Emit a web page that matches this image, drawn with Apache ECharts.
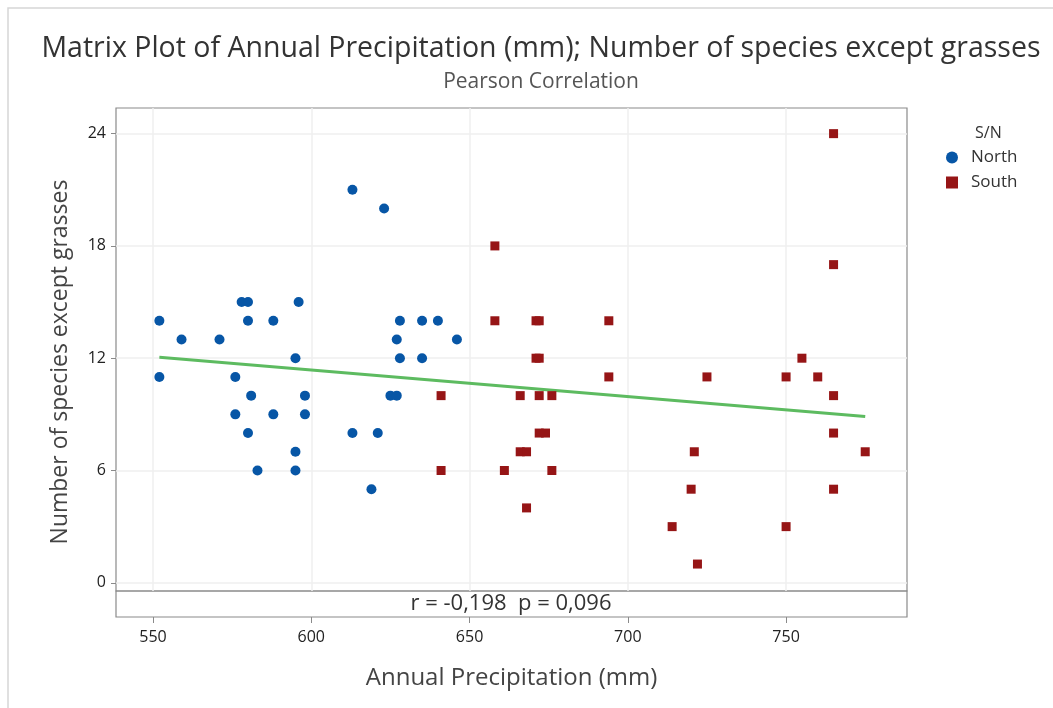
<!DOCTYPE html>
<html>
<head>
<meta charset="utf-8">
<script src="https://cdn.jsdelivr.net/npm/echarts@6/dist/echarts.min.js"></script>
<style>
  html, body { margin: 0; padding: 0; background: #ffffff; }
  #chart { width: 1053px; height: 708px; }
</style>
</head>
<body>
<div id="chart"></div>
<script>
// Annual precipitation (mm) and species count for northern sites
const northPrecip = [613, 552, 559, 571, 578, 580, 596, 580, 588, 595, 552, 576, 581, 598, 576, 588, 598,
  580, 613, 621, 595, 583, 595, 619, 623, 628, 635, 640, 627, 646, 628, 635, 625, 627];
const northSpecies = [21, 14, 13, 13, 15, 15, 15, 14, 14, 12, 11, 11, 10, 10, 9, 9, 9,
  8, 8, 8, 7, 6, 6, 5, 20, 14, 14, 14, 13, 13, 12, 12, 10, 10];

// Annual precipitation (mm) and species count for southern sites
const southPrecip = [658, 658, 671, 672, 694, 671, 672, 694, 641, 666, 672, 676, 672, 674, 666, 668, 641,
  661, 676, 668, 765, 765, 755, 725, 750, 760, 765, 765, 721, 775, 720, 765, 714, 750, 722];
const southSpecies = [18, 14, 14, 14, 14, 12, 12, 11, 10, 10, 10, 10, 8, 8, 7, 7, 6,
  6, 6, 4, 24, 17, 12, 11, 11, 11, 10, 8, 7, 7, 5, 5, 3, 3, 1];

// Fitted regression line over all sites (end points)
const fitPrecip = [552, 775];
const fitSpecies = [12.05, 8.88];

const xTicks = [550, 600, 650, 700, 750];
const yTicks = [0, 6, 12, 18, 24];
const statText = 'r = -0,198  p = 0,096';

const pair = (xs, ys) => xs.map((x, i) => [x, ys[i]]);
const north = pair(northPrecip, northSpecies);
const south = pair(southPrecip, southSpecies);
const fit = pair(fitPrecip, fitSpecies);

const FONT = '"Open Sans", "Noto Sans", sans-serif';
const frame = '#8a8a8a';
const gridLine = '#efefef';
const xMin = 538.3, xMax = 788.2, yMin = -0.44, yMax = 25.37;

const chart = echarts.init(document.getElementById('chart'), null, { renderer: 'canvas' });
chart.setOption({
  backgroundColor: '#ffffff',
  animation: false,
  textStyle: { fontFamily: FONT },
  title: [{
    text: 'Matrix Plot of Annual Precipitation (mm); Number of species except grasses',
    subtext: 'Pearson Correlation',
    left: 536, top: 29, textAlign: 'center',
    itemGap: 9,
    textStyle: { fontFamily: FONT, fontSize: 28.5, fontWeight: 'normal', color: '#333333' },
    subtextStyle: { fontFamily: FONT, fontSize: 21, color: '#555555' }
  }, {
    text: 'S/N',
    left: 970, top: 120,
    textStyle: { fontFamily: FONT, fontSize: 16, fontWeight: 'normal', color: '#333333' }
  }],
  legend: {
    orient: 'vertical',
    left: 941, top: 144,
    itemWidth: 12, itemHeight: 12, itemGap: 8,
    textStyle: { fontFamily: FONT, fontSize: 17, color: '#333333', padding: [0, 0, 0, 8] },
    data: [{ name: 'North', icon: 'circle' }, { name: 'South', icon: 'rect' }]
  },
  graphic: [{
    type: 'polyline',
    shape: { points: [[8, 708], [8, 8], [1053, 8]] },
    style: { stroke: '#d6d6d6', lineWidth: 1.5, fill: null },
    silent: true
  }, {
    type: 'text',
    x: 511, y: 604,
    style: { text: statText, fontFamily: FONT, fontSize: 22, fill: '#333333', align: 'center', verticalAlign: 'middle' },
    silent: true
  }, {
    // y-axis title, centred over the whole frame including the statistics strip
    type: 'text',
    x: 60, y: 362, rotation: Math.PI / 2,
    style: { text: 'Number of species except grasses', fontFamily: FONT, fontSize: 23, fill: '#444444', align: 'center', verticalAlign: 'middle' },
    silent: true
  }],
  grid: [
    { left: 116, right: 146, top: 108, height: 483, show: true, borderColor: frame, borderWidth: 1.2 },
    { left: 116, right: 146, top: 591, height: 26, show: true, borderColor: frame, borderWidth: 1.2 }
  ],
  xAxis: [{
    type: 'value', gridIndex: 0, min: xMin, max: xMax,
    axisLine: { show: false },
    axisTick: { show: false, customValues: xTicks },
    axisLabel: { show: false, customValues: xTicks },
    splitLine: { show: true, lineStyle: { color: gridLine, width: 1.5 } }
  }, {
    type: 'value', gridIndex: 1, min: xMin, max: xMax,
    name: 'Annual Precipitation (mm)', nameLocation: 'middle', nameGap: 49,
    nameTextStyle: { fontFamily: FONT, fontSize: 24, color: '#444444' },
    axisLine: { show: false },
    axisTick: { show: true, length: 6, customValues: xTicks, lineStyle: { color: frame } },
    axisLabel: { show: true, customValues: xTicks, margin: 12, fontFamily: FONT, fontSize: 16, color: '#222222' },
    splitLine: { show: false }
  }],
  yAxis: [{
    type: 'value', gridIndex: 0, min: yMin, max: yMax,
    axisLine: { show: false },
    axisTick: { show: true, length: 5, customValues: yTicks, lineStyle: { color: frame } },
    axisLabel: { show: true, customValues: yTicks, margin: 10, fontFamily: FONT, fontSize: 16, color: '#222222' },
    splitLine: { show: true, lineStyle: { color: gridLine, width: 1.5 } }
  }, {
    type: 'value', gridIndex: 1, min: 0, max: 1,
    axisLine: { show: false }, axisTick: { show: false },
    axisLabel: { show: false }, splitLine: { show: false }
  }],
  series: [{
    name: 'North', type: 'scatter', xAxisIndex: 0, yAxisIndex: 0,
    symbol: 'circle', symbolSize: 10,
    itemStyle: { color: '#0756A6', opacity: 1 },
    data: north, z: 3
  }, {
    name: 'South', type: 'scatter', xAxisIndex: 0, yAxisIndex: 0,
    symbol: 'rect', symbolSize: 9,
    itemStyle: { color: '#961516', opacity: 1 },
    data: south, z: 3
  }, {
    name: 'Fit', type: 'line', xAxisIndex: 0, yAxisIndex: 0,
    data: fit, symbol: 'none', silent: true,
    lineStyle: { color: '#5DBB60', width: 3 }, z: 2
  }]
});
</script>
</body>
</html>
